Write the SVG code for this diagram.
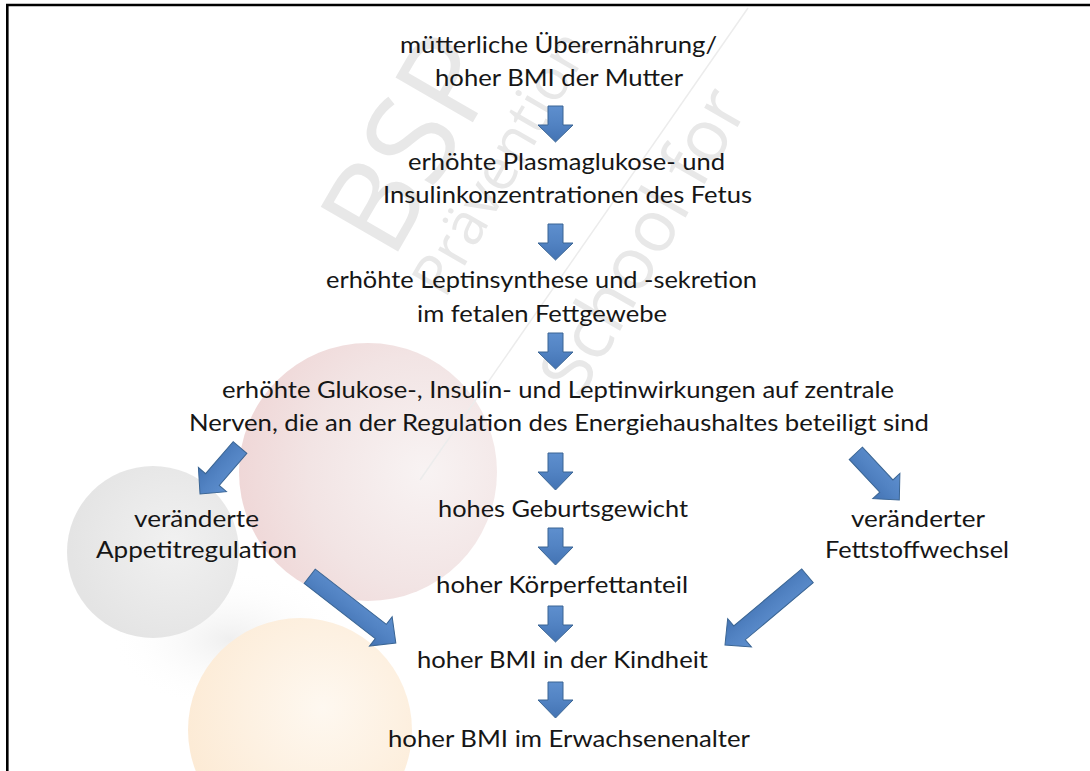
<svg xmlns="http://www.w3.org/2000/svg" width="1090" height="771" viewBox="0 0 1090 771">
<defs>
<style>
.t{font-family:Lato,"Open Sans","Liberation Sans",sans-serif;font-size:23px;fill:#161616;}
.wm{font-family:"Open Sans","Liberation Sans",sans-serif;font-weight:400;fill:#e8e8e8;}
.arr{fill:url(#ag);stroke:#3a6594;stroke-width:1;stroke-linejoin:miter;}
</style>
<linearGradient id="ag" x1="0" y1="0" x2="0" y2="1">
<stop offset="0" stop-color="#5e8fce"/>
<stop offset="0.5" stop-color="#5283c3"/>
<stop offset="1" stop-color="#4373b3"/>
</linearGradient>
<radialGradient id="gGrey" cx="0.62" cy="0.45" r="0.6">
<stop offset="0" stop-color="#f1f1f1"/>
<stop offset="1" stop-color="#e4e4e4"/>
</radialGradient>
<radialGradient id="gPink" cx="0.72" cy="0.5" r="0.75">
<stop offset="0" stop-color="#f8f3f3"/>
<stop offset="0.6" stop-color="#f2e4e4"/>
<stop offset="1" stop-color="#efd6d6"/>
</radialGradient>
<radialGradient id="gOrange" cx="0.6" cy="0.4" r="0.7">
<stop offset="0" stop-color="#fef8f0"/>
<stop offset="1" stop-color="#fce9d2"/>
</radialGradient>
<radialGradient id="gShadow" cx="0.5" cy="0.5" r="0.5">
<stop offset="0" stop-color="#efefef"/>
<stop offset="1" stop-color="#ffffff" stop-opacity="0"/>
</radialGradient>
</defs>
<rect width="1090" height="771" fill="#ffffff"/>
<g id="background">
<ellipse cx="230" cy="640" rx="120" ry="70" fill="url(#gShadow)"/>
<circle cx="368" cy="472" r="129" fill="url(#gPink)"/>
<circle cx="153" cy="552" r="86" fill="url(#gGrey)"/>
<circle cx="300" cy="730" r="112" fill="url(#gOrange)"/>
<line x1="748" y1="8" x2="420" y2="480" stroke="#ececec" stroke-width="1.5"/>
<text class="wm" font-size="125" transform="translate(392,262) rotate(-60)">BSP</text>
<text class="wm" font-size="58" transform="translate(445,300) rotate(-60)">Prävention</text>
<text class="wm" font-size="72" transform="translate(580,400) rotate(-60)">School for</text>
</g>
<path d="M7.3,771 V5 H1090" fill="none" stroke="#000" stroke-width="2.6"/>
<g id="connectors">
<path class="arr" d="M548,106 H563 V125 H573 L555.5,142 L538,125 H548 Z"/>
<path class="arr" d="M548,224 H563 V243 H573 L555.5,260 L538,243 H548 Z"/>
<path class="arr" d="M548,333 H563 V352 H573 L555.5,369 L538,352 H548 Z"/>
<path class="arr" d="M548,453 H563 V472 H573 L555.5,490 L538,472 H548 Z"/>
<path class="arr" d="M548,528 H563 V547 H573 L555.5,565 L538,547 H548 Z"/>
<path class="arr" d="M548,606 H563 V625 H573 L555.5,642 L538,625 H548 Z"/>
<path class="arr" d="M548,682 H563 V700 H573 L555.5,718 L538,700 H548 Z"/>
<path class="arr" transform="translate(240,447.5) rotate(130.7)" d="M0,-9 H42.3 V-18.5 L61.3,0 L42.3,18.5 V9 H0 Z"/>
<path class="arr" transform="translate(309.7,576.3) rotate(37.8)" d="M0,-9 H90 V-18.5 L109,0 L90,18.5 V9 H0 Z"/>
<path class="arr" transform="translate(855.8,453.3) rotate(47)" d="M0,-9 H44.8 V-18.5 L63.8,0 L44.8,18.5 V9 H0 Z"/>
<path class="arr" transform="translate(807.5,575.8) rotate(140)" d="M0,-9 H88.7 V-18.5 L107.7,0 L88.7,18.5 V9 H0 Z"/>
</g>
<g id="n1"><text class="t" x="400" y="53" textLength="317" lengthAdjust="spacingAndGlyphs">mütterliche Überernährung/</text>
<text class="t" x="435" y="86" textLength="248" lengthAdjust="spacingAndGlyphs">hoher BMI der Mutter</text></g>
<g id="n2"><text class="t" x="408" y="170" textLength="317" lengthAdjust="spacingAndGlyphs">erhöhte Plasmaglukose- und</text>
<text class="t" x="383" y="203" textLength="369" lengthAdjust="spacingAndGlyphs">Insulinkonzentrationen des Fetus</text></g>
<g id="n3"><text class="t" x="326" y="288" textLength="431" lengthAdjust="spacingAndGlyphs">erhöhte Leptinsynthese und -sekretion</text>
<text class="t" x="417" y="322" textLength="250" lengthAdjust="spacingAndGlyphs">im fetalen Fettgewebe</text></g>
<g id="n4"><text class="t" x="222" y="398" textLength="672" lengthAdjust="spacingAndGlyphs">erhöhte Glukose-, Insulin- und Leptinwirkungen auf zentrale</text>
<text class="t" x="189" y="431" textLength="740" lengthAdjust="spacingAndGlyphs">Nerven, die an der Regulation des Energiehaushaltes beteiligt sind</text></g>
<g id="n5"><text class="t" x="134" y="527" textLength="125" lengthAdjust="spacingAndGlyphs">veränderte</text>
<text class="t" x="96" y="558" textLength="201" lengthAdjust="spacingAndGlyphs">Appetitregulation</text></g>
<g id="n6"><text class="t" x="438" y="517" textLength="250" lengthAdjust="spacingAndGlyphs">hohes Geburtsgewicht</text></g>
<g id="n7"><text class="t" x="851" y="527" textLength="134" lengthAdjust="spacingAndGlyphs">veränderter</text>
<text class="t" x="825" y="558" textLength="184" lengthAdjust="spacingAndGlyphs">Fettstoffwechsel</text></g>
<g id="n8"><text class="t" x="436" y="593" textLength="252" lengthAdjust="spacingAndGlyphs">hoher Körperfettanteil</text></g>
<g id="n9"><text class="t" x="417" y="668" textLength="291" lengthAdjust="spacingAndGlyphs">hoher BMI in der Kindheit</text></g>
<g id="n10"><text class="t" x="388" y="747" textLength="362" lengthAdjust="spacingAndGlyphs">hoher BMI im Erwachsenenalter</text></g>
</svg>
